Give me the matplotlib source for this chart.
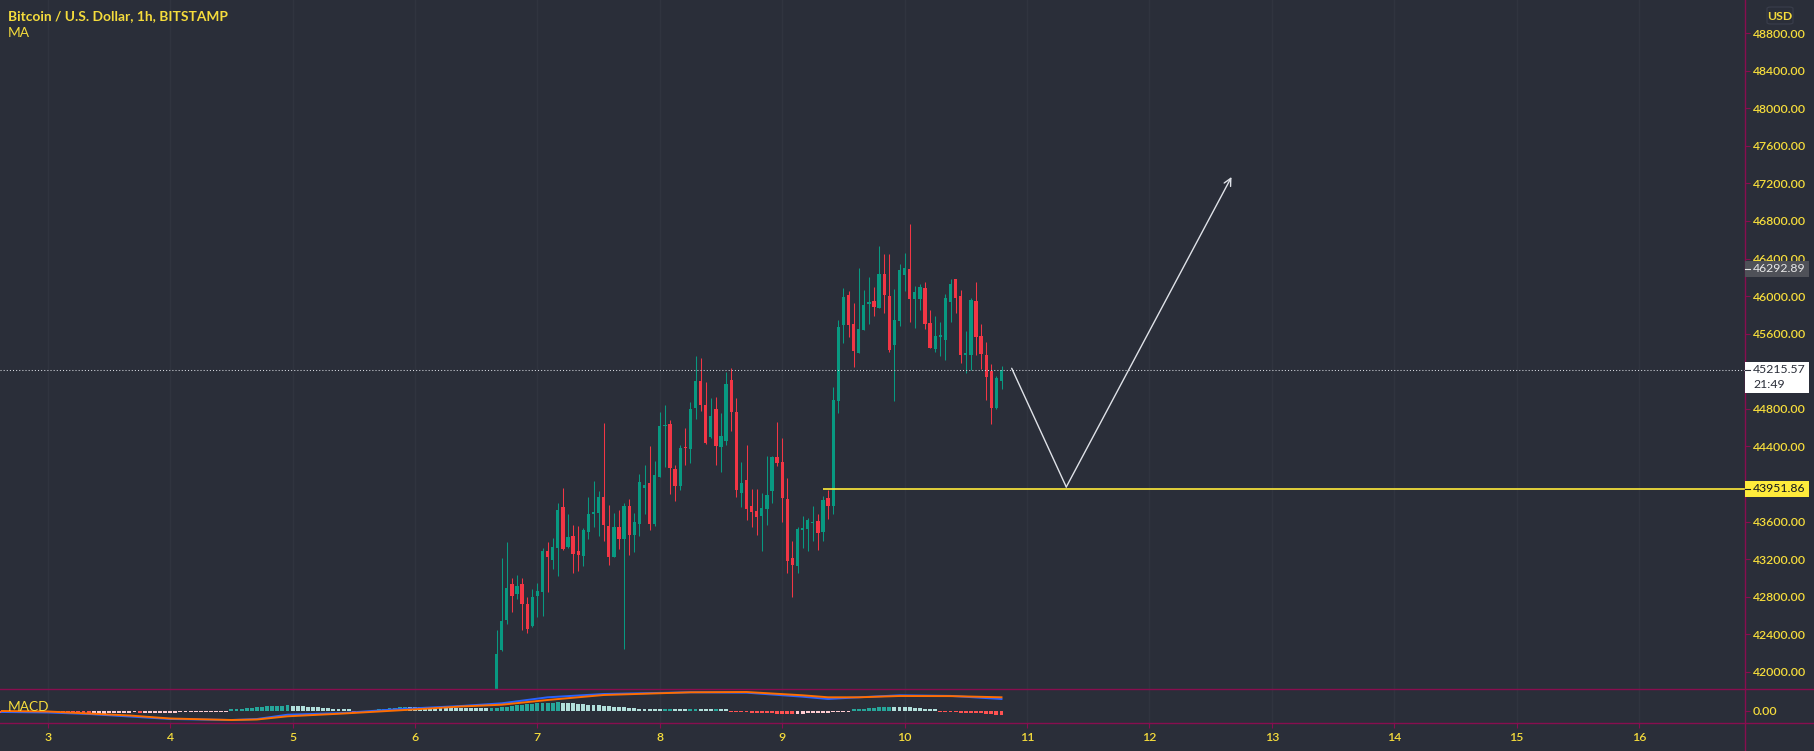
import numpy as np
import matplotlib
matplotlib.use("Agg")
import matplotlib.pyplot as plt
import matplotlib.transforms as mtransforms
from matplotlib.patches import Rectangle, FancyBboxPatch
from matplotlib.lines import Line2D

# ---------------- data ----------------
title = "Bitcoin / U.S. Dollar, 1h, BITSTAMP"
start_hour = 16  # first visible candle: day 6, 16:00 (hours counted from day 6 00:00)

opens = [41700, 42234, 42557, 42936, 42830, 42936, 42724, 42490, 42809, 42851,
         43288, 43192, 43320, 43756, 43330, 43447, 43288, 43234, 43490, 43681,
         43692, 43862, 43554, 43224, 43543, 43415, 43766, 43458, 43575, 43958,
         44011, 43575, 44075, 44618, 44639, 44160, 43979, 44394, 44373, 44809,
         45097, 44841, 44501, 44799, 44394, 44458, 45107, 44767, 43905, 44043,
         43766, 43713, 43660, 43734, 43926, 44288, 44235, 43841, 43213, 43128,
         43511, 43522, 43585, 43607, 43490, 43852, 43766, 44884, 45692, 46011,
         45703, 45394, 45639, 45916, 45948, 45873, 46235, 46001, 45480, 45735,
         46225, 46289, 45969, 45969, 46086, 45714, 45437, 45565, 45533, 45937,
         46182, 46001, 45373, 45373, 45948, 45575, 45373, 45203, 44809, 45097]
highs = [42447, 43213, 43383, 43000, 43032, 43000, 42798, 42883, 42947, 43320,
         43383, 43426, 43798, 43958, 43681, 43564, 43554, 43532, 43862, 44032,
         43926, 44650, 43777, 43692, 43724, 43798, 43841, 43692, 44107, 44203,
         44405, 44245, 44767, 44841, 44682, 44203, 44416, 44597, 44873, 45363,
         45341, 45086, 44916, 44926, 44756, 45193, 45235, 44916, 44235, 44416,
         43947, 43947, 43905, 44299, 44299, 44660, 44490, 44064, 43394, 43543,
         43660, 43639, 43766, 43681, 43873, 43937, 45033, 45746, 46086, 46054,
         45927, 46299, 46065, 46203, 46097, 46533, 46448, 46448, 46076, 46342,
         46459, 46767, 46108, 46129, 46150, 45852, 45788, 45724, 46022, 46182,
         46185, 46065, 45629, 45980, 46150, 45703, 45511, 45277, 45150, 45256]
lows = [41600, 42220, 42511, 42638, 42777, 42447, 42415, 42479, 42585, 42596,
        42851, 43096, 43022, 43300, 43320, 43053, 43075, 43128, 43415, 43543,
        43447, 43394, 43139, 43220, 43309, 42245, 43245, 43277, 43447, 43681,
        43511, 43554, 44070, 44181, 43894, 43820, 43937, 44203, 44224, 44692,
        44777, 44430, 44495, 44203, 44128, 44416, 44565, 43862, 43756, 43617,
        43543, 43458, 43288, 43564, 43798, 44192, 43596, 43053, 42798, 43053,
        43320, 43288, 43394, 43298, 43394, 43628, 43681, 44756, 45501, 45565,
        45245, 45390, 45635, 45703, 45788, 45870, 45820, 45405, 44884, 45682,
        46054, 45724, 45660, 45852, 45650, 45445, 45405, 45363, 45320, 45724,
        45820, 45288, 45182, 45214, 45373, 45224, 44894, 44639, 44799, 45012]
closes = [42192, 42543, 42894, 42809, 42915, 42724, 42458, 42798, 42862, 43288,
          43224, 43330, 43724, 43309, 43437, 43256, 43245, 43511, 43681, 43703,
          43862, 43564, 43224, 43543, 43415, 43766, 43458, 43596, 44022, 43990,
          43575, 44096, 44618, 44628, 44171, 43979, 44384, 44384, 44799, 45097,
          44841, 44437, 44724, 44405, 44511, 45065, 44767, 43937, 44011, 43734,
          43703, 43649, 43745, 43884, 44288, 44224, 43852, 43181, 43139, 43522,
          43532, 43617, 43596, 43479, 43830, 43766, 44894, 45671, 45990, 45692,
          45416, 45650, 45905, 45937, 45884, 46235, 46011, 45426, 45746, 46278,
          46299, 45969, 46044, 46097, 45703, 45448, 45575, 45586, 45980, 46129,
          45980, 45373, 45394, 45958, 45565, 45384, 45139, 44809, 45128, 45215.57]

last_price = 45215.57
last_time = "21:49"
ma_value = 46292.89
support_level = 43951.86
support_start_hour = 80

# drawn path (hour, price): start -> bottom -> target (arrow)
path_hours = [117.0, 127.7, 160.1]
path_prices = [45232, 43969, 47268]

# MACD pane
macd_hours = [-81, -72, -64, -56, -48, -36, -31, -25, -14, -3, 9, 17, 26, 37, 54, 65, 76, 81, 87, 95, 105, 115]
macd_line = [-65, -90, -165, -290, -415, -465, -415, -200, -115, 85, 235, 370, 670, 835, 920, 900, 700, 585, 670, 770, 740, 585]
signal_line = [-15, -40, -140, -240, -390, -465, -440, -280, -140, 20, 210, 300, 535, 785, 920, 935, 770, 670, 670, 735, 730, 670]
hist_start_hour = -81
hist_values = [-120, -110, -110, -100, -100, -90, -90, -80, -80, -80, -70, -70,
               -90, -110, -130, -150, -170, -180,
               -170, -160, -150, -140, -130, -120, -110, -100, -90,
               -110,
               -105, -102, -100, -98, -96, -94, -92, -90, -88, -86, -84, -82, -80, -78, -76, -74, -72,
               60, 70, 90, 110, 140, 160, 190, 210, 230, 240, 250, 260,
               250, 240, 220, 200, 180, 160, 140, 120, 100, 90, 80,
               70, -60, -70, -80, -75, -65,
               70, 90, 110, 140, 170, 190,
               185, 180, 175, 170, 165, 160, 155, 150, 145, 140, 135, 130, 125, 120, 115, 110,
               120, 140, 160, 200, 240, 270, 300, 320, 340, 360, 380, 390, 400, 410, 400, 380, 360,
               340, 320, 300, 280, 260, 240, 220, 200, 180, 160, 140, 120, 100, 90, 80,
               70, 65, 75, 85, 80, 75, 70, 80, 90, 85, 80, 75, 80, 70, 65, -60,
               -70, -80, -90, -100, -110, -120, -130, -140, -150, -160, -170, -170, -160, -150, -140, -130, -120, -110, -100, -90, -80, -70, -60,
               60, 80, 100, 130, 150, 170, 180, 190, 190, 180, 170, 160, 140, 110,
               90, 80, 70, -60, -70, -80,
               -90, -100, -110, -120, -130, -140, -160, -190, -220, -240]

day_labels = ["3", "4", "5", "6", "7", "8", "9", "10", "11", "12", "13", "14", "15", "16"]
day_numbers = [3, 4, 5, 6, 7, 8, 9, 10, 11, 12, 13, 14, 15, 16]
price_ticks = [42000, 42400, 42800, 43200, 43600, 44000, 44400, 44800,
               45600, 46000, 46400, 46800, 47200, 47600, 48000, 48400, 48800]

# ---------------- style ----------------
W, H, DPI = 1814, 751, 100
BG = "#2a2e39"
MAG = "#880e4f"
YEL = "#f5dc3c"
TEAL = "#089981"
RED = "#f23645"
GRID = "#30343f"
FONT = ["Lato", "DejaVu Sans"]
plt.rcParams["font.family"] = FONT

PANE_R = 1745      # px, right edge of chart panes
MAIN_B = 689       # px, bottom of price pane
MACD_B = 723       # px, bottom of MACD pane
PX_PER_HOUR = 5.1
X_DAY6 = 415       # px position of day 6 00:00

fig = plt.figure(figsize=(W / DPI, H / DPI), dpi=DPI, facecolor=BG)


def fx(px):
    return px / W


def fy(py):
    return 1 - py / H


ax = fig.add_axes([0, fy(MAIN_B), fx(PANE_R), MAIN_B / H])
axm = fig.add_axes([0, fy(MACD_B), fx(PANE_R), (MACD_B - MAIN_B) / H], sharex=ax)
for a in (ax, axm):
    a.set_facecolor(BG)
    for s in a.spines.values():
        s.set_visible(False)

xl = (-X_DAY6 / PX_PER_HOUR, (PANE_R - X_DAY6) / PX_PER_HOUR)
ax.set_xlim(*xl)
ylo = 42000 - (MAIN_B - 672) * (6800 / 639)
yhi = 42000 + 672 * (6800 / 639)
ax.set_ylim(ylo, yhi)
dollar_per_px = (yhi - ylo) / MAIN_B

day_hours = [(d - 6) * 24 for d in day_numbers]

# grid
for a in (ax, axm):
    for h in day_hours:
        a.axvline(h, color=GRID, lw=1, zorder=0)

# candles
o = np.array(opens, float)
hi = np.array(highs, float)
lo = np.array(lows, float)
c = np.array(closes, float)
hrs = start_hour + np.arange(len(o))
cols = np.where(c >= o, TEAL, RED)
ax.vlines(hrs, lo, hi, colors=cols, linewidth=0.75, zorder=3)
body_b = np.minimum(o, c)
body_h = np.maximum(np.abs(c - o), dollar_per_px * 1.2)
ax.bar(hrs, body_h, bottom=body_b, width=0.64, color=cols, linewidth=0, zorder=4)

# last price dotted line
ax.axhline(last_price, color="#d8dbe2", lw=0.75, ls=(0, (1, 2)), zorder=5)
# support line
ax.hlines(support_level, support_start_hour, xl[1], color="#ffeb3b", lw=1.2, zorder=5)
# drawn path
PATH_C = "#dfe2e8"
ax.plot(path_hours[:2], path_prices[:2], color=PATH_C, lw=1.0, zorder=6, solid_capstyle="round")
ax.annotate("", xy=(path_hours[2], path_prices[2]), xytext=(path_hours[1], path_prices[1]),
            arrowprops=dict(arrowstyle="->", color=PATH_C, lw=1.0, shrinkA=0, shrinkB=0,
                            mutation_scale=13), zorder=6)

# MACD
axm.set_ylim(-615, 1085)
hv = np.array(hist_values, float)
hh = hist_start_hour + np.arange(len(hv))
hcols = []
for i, v in enumerate(hv):
    prev = hv[i - 1] if i > 0 else v
    if v >= 0:
        hcols.append("#26a69a" if v > prev else "#b2dfdb")
    else:
        hcols.append("#ffcdd2" if v > prev else "#ff5252")
axm.bar(hh, hv, width=0.75, color=hcols, linewidth=0, zorder=2)
axm.plot(macd_hours, macd_line, color="#2962ff", lw=1.4, zorder=3)
axm.plot(macd_hours, signal_line, color="#ff6d00", lw=1.4, zorder=4)

# axes ticks
LBL = 8.8
WT = "semibold"
ax.yaxis.tick_right()
ax.set_yticks(price_ticks)
ax.set_yticklabels([f"{p:.2f}" for p in price_ticks], fontweight=WT)
ax.tick_params(axis="y", colors=MAG, labelcolor=YEL, length=3.6, width=0.8, pad=2.0, labelsize=LBL)
ax.tick_params(axis="x", length=0, labelbottom=False)
ax.set_xticks(day_hours)

axm.yaxis.tick_right()
axm.set_yticks([0])
axm.set_yticklabels(["0.00"], fontweight=WT)
axm.tick_params(axis="y", colors=MAG, labelcolor=YEL, length=3.6, width=0.8, pad=2.0, labelsize=LBL)
axm.set_xticks(day_hours)
axm.set_xticklabels(day_labels, fontweight=WT)
axm.tick_params(axis="x", colors=MAG, labelcolor=YEL, length=3.6, width=0.8, pad=3, labelsize=LBL)

# separators
for yy in (MAIN_B, MACD_B):
    fig.add_artist(Line2D([0, 1], [fy(yy), fy(yy)], transform=fig.transFigure, color=MAG, lw=1, zorder=20))
fig.add_artist(Line2D([fx(PANE_R), fx(PANE_R)], [0, 1], transform=fig.transFigure, color=MAG, lw=1, zorder=20))

# texts
fig.text(fx(8), fy(16), title, color=YEL, fontsize=9.9, fontweight="bold", va="center", ha="left")
fig.text(fx(8), fy(33), "MA", color=YEL, fontsize=9.9, va="center", ha="left")
fig.text(fx(8), fy(707), "MACD", color=YEL, fontsize=9.9, va="center", ha="left", zorder=25)

# USD box
fig.add_artist(FancyBboxPatch((fx(1767), fy(24)), fx(26), 17 / H, boxstyle="round,pad=0,rounding_size=0.002",
                              transform=fig.transFigure, facecolor=BG, edgecolor="#3a3e4b", lw=0.8, zorder=21))
fig.text(fx(1780), fy(16), "USD", color=YEL, fontsize=LBL, fontweight="bold", va="center", ha="center",
         zorder=22)

# price labels on the scale
btr = mtransforms.blended_transform_factory(fig.transFigure, ax.transData)


def scale_label(price, text, face, tcolor, h_px=16, extra=None):
    hd = h_px * dollar_per_px
    ext = extra[1] if extra else 0
    rect = Rectangle((fx(PANE_R), price - hd / 2 - ext), fx(1809 - PANE_R), hd + ext,
                     transform=btr, facecolor=face, edgecolor="none", zorder=30, clip_on=False)
    fig.add_artist(rect)
    fig.text(fx(1753), price, text, transform=btr, color=tcolor, fontsize=LBL, va="center", ha="left",
             zorder=31)
    fig.add_artist(Line2D([fx(PANE_R), fx(PANE_R + 5)], [price, price], transform=btr, color=tcolor,
                          lw=0.8, zorder=31))
    if extra:
        fig.text(fx(1753), price - 15 * dollar_per_px, extra[0], transform=btr, color=tcolor,
                 fontsize=LBL, va="center", ha="left", zorder=31)


scale_label(ma_value, f"{ma_value:.2f}", "#4f5158", "#e8e8e8")
scale_label(support_level, f"{support_level:.2f}", "#ffeb3b", "#131722")
scale_label(last_price, f"{last_price:.2f}", "#ffffff", "#2a2e39", extra=(last_time, 15 * dollar_per_px))

fig.savefig("out.png", dpi=DPI, facecolor=BG)
